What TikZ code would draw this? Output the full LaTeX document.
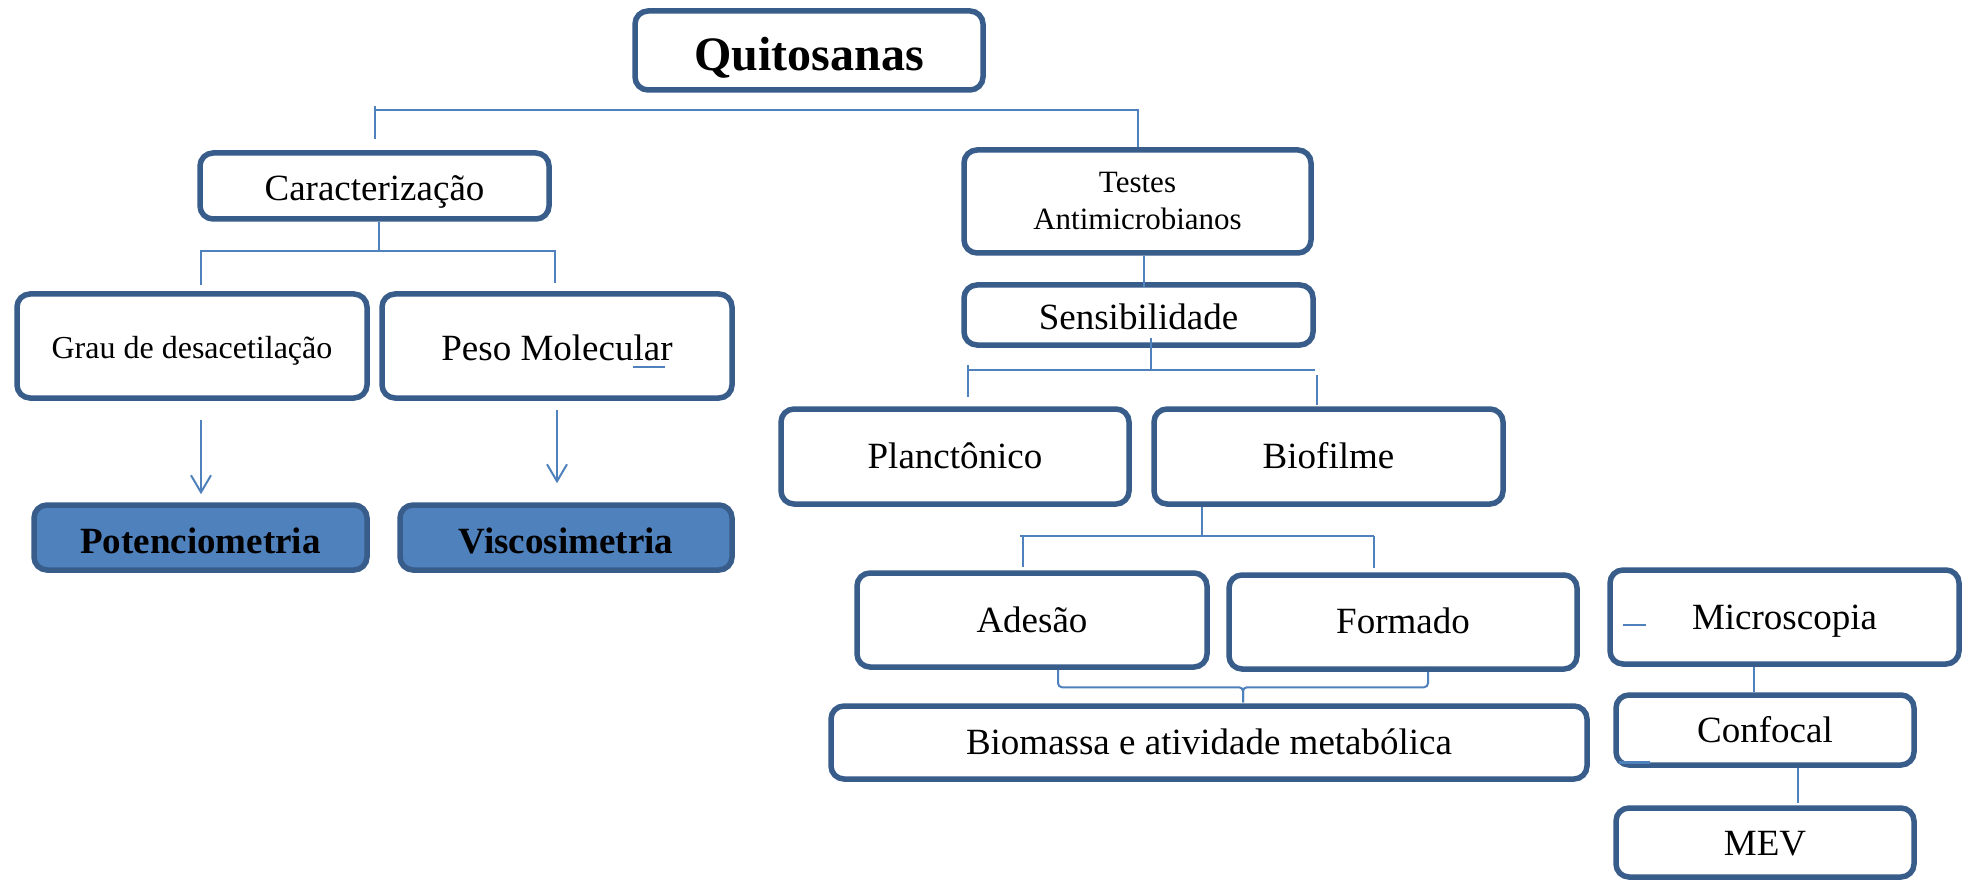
\documentclass[tikz,border=0pt]{standalone}
\usepackage{fontspec}
\setmainfont{Liberation Serif}
\usetikzlibrary{arrows.meta}
\definecolor{bdr}{HTML}{385D8A}
\definecolor{fillb}{HTML}{4F81BD}
\definecolor{lnk}{HTML}{4F81BD}
\begin{document}
\begin{tikzpicture}[x=1pt,y=1pt,
  box/.style={draw=bdr, line width=5.5pt, rounded corners=13pt, fill=white, inner sep=0pt, text=black, font=\fontsize{37}{44}\selectfont},
  dark/.style={box, fill=fillb, font=\fontsize{37}{44}\selectfont\bfseries},
  bl/.style={text height=#1, text depth=0pt},
  conn/.style={draw=lnk, line width=2pt},
  arr/.style={conn, -{Straight Barb[length=17pt,width=20pt]}}]
\fill[white] (0,0) rectangle (1969,-882);
\useasboundingbox (0,0) rectangle (1969,-882);

\node[box, minimum width=348pt, minimum height=79pt, font=\fontsize{48}{56}\selectfont\bfseries, bl=40pt] (quit) at (809,-50.5) {Quitosanas};
\node[box, minimum width=349pt, minimum height=66pt, bl=30pt] (car) at (374.5,-186) {Caracterização};
\node[box, minimum width=350pt, minimum height=104pt, font=\fontsize{32}{38}\selectfont, bl=24pt] (grau) at (192,-346) {Grau de desacetilação};
\node[box, minimum width=350pt, minimum height=104pt, bl=28pt] (peso) at (557,-346) {Peso Molecular};
\node[dark, minimum width=333pt, minimum height=65pt, bl=31pt] (pot) at (200.5,-537.5) {Potenciometria};
\node[dark, minimum width=332pt, minimum height=65pt, bl=31pt] (vis) at (566,-537.5) {Viscosimetria};
\node[box, minimum width=347pt, minimum height=103pt, align=center, font=\fontsize{31}{37}\selectfont] (tes) at (1137.5,-201.5) {Testes\\Antimicrobianos};
\node[box, minimum width=349pt, minimum height=60pt, bl=30pt] (sen) at (1138.5,-315) {Sensibilidade};
\node[box, minimum width=348pt, minimum height=95pt, bl=23pt] (pla) at (955,-456.5) {Planctônico};
\node[box, minimum width=349pt, minimum height=95pt, bl=23pt] (bio) at (1328.5,-456.5) {Biofilme};
\node[box, minimum width=350pt, minimum height=94pt, bl=24pt] (ade) at (1032,-620) {Adesão};
\node[box, minimum width=348pt, minimum height=94pt, bl=22pt] (for) at (1403,-622) {Formado};
\node[box, minimum width=349pt, minimum height=94pt, bl=24pt] (mic) at (1784.5,-617) {Microscopia};
\node[box, minimum width=756pt, minimum height=73pt, bl=23pt] (bms) at (1209,-742.5) {Biomassa e atividade metabólica};
\node[box, minimum width=298pt, minimum height=70pt, bl=24pt] (con) at (1765,-730) {Confocal};
\node[box, minimum width=298pt, minimum height=69pt, bl=25pt] (mev) at (1765,-842.5) {MEV};

% top bracket
\draw[conn] ([yshift=11pt]car.north) -- ++(0,33);
\draw[conn] ([yshift=40pt]car.north) -| (tes.north);
% caracterizacao
\draw[conn] ([xshift=4.5pt]car.south) -- ++(0,-30);
\draw[conn] ([xshift=9pt,yshift=6pt]grau.north) |- ([xshift=-2pt,yshift=40pt]peso.north) -- ([xshift=-2pt,yshift=8pt]peso.north);
% arrows
\draw[arr] ([xshift=9pt,yshift=-19pt]grau.south) -- ([xshift=0.5pt,yshift=8pt]pot.north);
\draw[arr] ([yshift=-9pt]peso.south) -- ([xshift=-9pt,yshift=19pt]vis.north);
% testes -> sensibilidade
\draw[conn] ([xshift=6.5pt]tes.south) -- ([xshift=5.5pt,yshift=-5pt]sen.north);
% sensibilidade
\draw[conn] ([xshift=12.5pt,yshift=10pt]sen.south) -- ++(0,-32);
\draw[conn] ([xshift=13pt,yshift=41pt]pla.north) -- ([xshift=13pt,yshift=9pt]pla.north);
\draw[conn] ([xshift=13pt,yshift=36pt]pla.north) -- ([xshift=-13.5pt,yshift=36pt]bio.north);
\draw[conn] ([xshift=-11.5pt,yshift=31pt]bio.north) -- ([xshift=-11.5pt,yshift=1pt]bio.north);
% biofilme
\draw[conn] ([xshift=-126.5pt]bio.south) -- ++(0,-29.5);
\draw[conn] ([xshift=-12pt,yshift=34pt]ade.north) -- ([xshift=-29pt,yshift=36pt]for.north);
\draw[conn] ([xshift=-9pt,yshift=34pt]ade.north) -- ([xshift=-9pt,yshift=3pt]ade.north);
\draw[conn] ([xshift=-29pt,yshift=36pt]for.north) -- ([xshift=-29pt,yshift=4pt]for.north);
% brace to biomassa
\draw[conn, rounded corners=4pt] ([xshift=26pt]ade.south) |- ([xshift=34pt,yshift=16pt]bms.north) -- ([xshift=34pt,yshift=1pt]bms.north);
\draw[conn, rounded corners=4pt] ([xshift=25pt]for.south) |- ([xshift=34pt,yshift=16pt]bms.north) -- ([xshift=34pt,yshift=1pt]bms.north);
% microscopia chain
\draw[conn] ([xshift=-30.5pt]mic.south) -- ([xshift=-11pt]con.north);
\draw[conn] ([xshift=33pt]con.south) -- ([xshift=33pt,yshift=2pt]mev.north);
% stray marks
\draw[conn] ([xshift=76pt,yshift=-21pt]peso.center) -- ++(32,0);
\draw[conn] ([xshift=16pt,yshift=-8pt]mic.west) -- ++(23,0);
\draw[lnk, line width=3pt] ([xshift=5.75pt,yshift=5.25pt]con.south west) -- ++(31,0);
\end{tikzpicture}
\end{document}
